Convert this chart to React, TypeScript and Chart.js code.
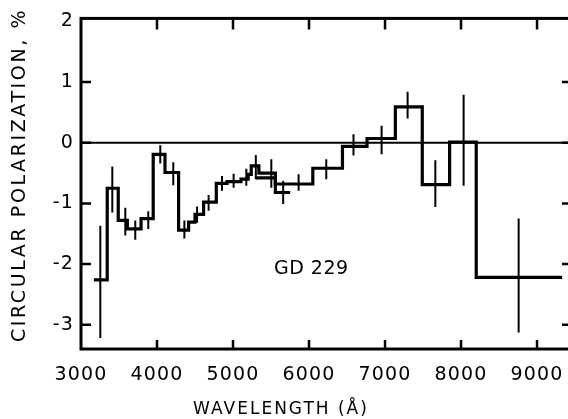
import React, { useEffect, useRef } from "react";
import { Chart, registerables } from "chart.js";

Chart.register(...registerables);

// Tick values
const xTicks = [3000, 4000, 5000, 6000, 7000, 8000, 9000];
const yTicks = [2, 1, 0, -1, -2, -3];

// First step histogram (blue spectrum): bin edges (Å) and circular polarization (%)
const edgesA = [3170, 3345, 3490, 3610, 3790, 3950, 4105, 4284, 4416, 4500, 4613, 4780, 4921, 5105, 5200, 5240, 5340, 5557, 5752];
const valuesA = [-2.26, -0.75, -1.28, -1.42, -1.25, -0.19, -0.49, -1.44, -1.31, -1.18, -0.98, -0.67, -0.64, -0.6, -0.52, -0.38, -0.5, -0.82];
const errXA = [3254, 3412, 3583, 3714, 3885, 4043, 4214, 4360, 4527, 4679, 4855, 5008, 5175, 5300, 5660];
const errLoA = [-3.22, -1.15, -1.53, -1.6, -1.42, -0.34, -0.7, -1.58, -1.32, -1.12, -0.79, -0.74, -0.71, -0.6, -1.01];
const errHiA = [-1.37, -0.39, -1.07, -1.28, -1.13, -0.04, -0.32, -1.28, -1.05, -0.86, -0.55, -0.51, -0.43, -0.2, -0.63];

// Second step histogram (red spectrum)
const edgesB = [5300, 5557, 6050, 6440, 6763, 7136, 7490, 7850, 8200, 9330];
const valuesB = [-0.58, -0.68, -0.42, -0.06, 0.07, 0.59, -0.69, 0.01, -2.22];
const errXB = [5504, 5863, 6227, 6585, 6955, 7297, 7662, 8034, 8758];
const errLoB = [-0.74, -0.79, -0.6, -0.21, -0.19, 0.4, -1.06, -0.71, -3.13];
const errHiB = [-0.27, -0.52, -0.27, 0.14, 0.28, 0.84, -0.29, 0.79, -1.25];

const xRange = [3000, 9460];
const yRange = [-3.4, 2.05];
const label = { text: "GD 229", x: 6030, y: -2.08 };
const xTitle = "WAVELENGTH (Å)";
const yTitle = "CIRCULAR POLARIZATION, %";

const FONT = "'DejaVu Sans', sans-serif";

const stepPts = (edges: number[], vals: number[]) => [
  ...vals.map((v, i) => ({ x: edges[i], y: v })),
  { x: edges[edges.length - 1], y: vals[vals.length - 1] },
];

const errPts = (xs: number[], lo: number[], hi: number[]) =>
  xs.flatMap((x, i) => [
    { x, y: lo[i] },
    { x, y: hi[i] },
    { x, y: null as any },
  ]);

const framePlugin = {
  id: "frame",
  beforeDraw(chart: any) {
    chart.ctx.letterSpacing = "1.2px";
  },
  afterDraw(chart: any) {
    const { ctx, chartArea: a, scales } = chart;
    const x = scales.x;
    const y = scales.y;
    ctx.save();
    ctx.strokeStyle = "#000";
    ctx.lineWidth = 3;
    ctx.strokeRect(a.left, a.top, a.right - a.left, a.bottom - a.top);
    ctx.lineWidth = 2.5;
    ctx.beginPath();
    xTicks.forEach((v) => {
      if (v === xRange[0]) return;
      const px = x.getPixelForValue(v);
      ctx.moveTo(px, a.bottom);
      ctx.lineTo(px, a.bottom - 9);
      ctx.moveTo(px, a.top);
      ctx.lineTo(px, a.top + 11);
    });
    yTicks.forEach((v) => {
      if (v === 2) return;
      const py = y.getPixelForValue(v);
      ctx.moveTo(a.left, py);
      ctx.lineTo(a.left + 10, py);
      ctx.moveTo(a.right, py);
      ctx.lineTo(a.right - 10, py);
    });
    ctx.stroke();

    ctx.fillStyle = "#000";
    // GD 229 label
    ctx.font = `19px ${FONT}`;
    ctx.letterSpacing = "0.5px";
    ctx.textAlign = "center";
    ctx.textBaseline = "middle";
    ctx.fillText(label.text, x.getPixelForValue(label.x), y.getPixelForValue(label.y));

    // x title
    ctx.font = `17px ${FONT}`;
    ctx.letterSpacing = "2px";
    ctx.fillText(xTitle, 281, 410);

    // y title
    ctx.font = `19px ${FONT}`;
    ctx.letterSpacing = "2.6px";
    ctx.translate(20, 175);
    ctx.rotate(-Math.PI / 2);
    ctx.fillText(yTitle, 0, 0);
    ctx.restore();
  },
};

export default function App() {
  const ref = useRef<HTMLCanvasElement>(null);
  useEffect(() => {
    document.body.style.margin = "0";
    const tickFont = { family: FONT, size: 19 };
    const chart = new Chart(ref.current!, {
      type: "line",
      data: {
        datasets: [
          {
            data: [
              { x: xRange[0], y: 0 },
              { x: xRange[1], y: 0 },
            ],
            borderColor: "#000",
            borderWidth: 2,
            pointRadius: 0,
          },
          {
            data: stepPts(edgesA, valuesA),
            stepped: "before",
            borderColor: "#000",
            borderWidth: 3.2,
            pointRadius: 0,
            borderJoinStyle: "miter",
          },
          {
            data: stepPts(edgesB, valuesB),
            stepped: "before",
            borderColor: "#000",
            borderWidth: 3.2,
            pointRadius: 0,
            borderJoinStyle: "miter",
          },
          {
            data: errPts(errXA, errLoA, errHiA),
            borderColor: "#000",
            borderWidth: 2,
            pointRadius: 0,
            spanGaps: false,
          },
          {
            data: errPts(errXB, errLoB, errHiB),
            borderColor: "#000",
            borderWidth: 2,
            pointRadius: 0,
            spanGaps: false,
          },
        ] as any,
      },
      options: {
        animation: false,
        responsive: false,
        maintainAspectRatio: false,
        layout: { padding: { top: 18, right: 8, left: 0, bottom: 0 } },
        plugins: { legend: { display: false }, tooltip: { enabled: false } },
        elements: { point: { radius: 0 } },
        scales: {
          x: {
            type: "linear",
            min: xRange[0],
            max: xRange[1],
            grid: { display: false, drawTicks: false },
            border: { display: false },
            afterBuildTicks: (s: any) => {
              s.ticks = xTicks.map((v) => ({ value: v }));
            },
            afterFit: (s: any) => {
              s.height = 70;
            },
            ticks: {
              color: "#000",
              font: tickFont,
              padding: 15,
              maxRotation: 0,
              autoSkip: false,
              callback: (v: any) => String(v),
            },
          },
          y: {
            type: "linear",
            min: yRange[0],
            max: yRange[1],
            grid: { display: false, drawTicks: false },
            border: { display: false },
            afterBuildTicks: (s: any) => {
              s.ticks = yTicks.map((v) => ({ value: v }));
            },
            afterFit: (s: any) => {
              s.width = 81;
            },
            ticks: {
              color: "#000",
              font: tickFont,
              padding: 7,
              callback: (v: any) => String(v),
            },
          },
        },
      } as any,
      plugins: [framePlugin],
    });
    return () => chart.destroy();
  }, []);
  return (
    <div style={{ width: 568, height: 419, overflow: "hidden", position: "relative" }}>
      <canvas ref={ref} width={580} height={419} style={{ display: "block" }} />
    </div>
  );
}
